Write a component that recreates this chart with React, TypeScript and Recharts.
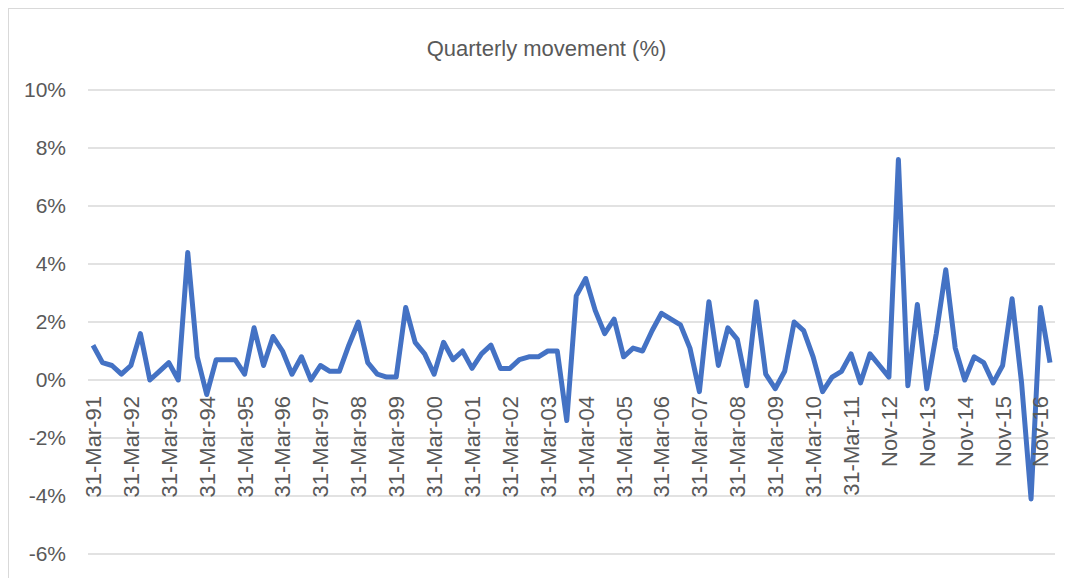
import { LineChart, Line, XAxis, YAxis, CartesianGrid } from 'recharts';

// Quarter-end labels: 31-Mar-91 .. 31-Dec-11, then Nov-12 onwards every 3 months
const quarterEnds = ['31-Mar', '30-Jun', '30-Sep', '31-Dec'];
const laterMonths = ['Nov', 'Feb', 'May', 'Aug'];

// quarterly movement, %
const movement = [
  1.2, 0.6, 0.5, 0.2, 0.5, 1.6, 0.0, 0.3, 0.6, 0.0,
  4.4, 0.8, -0.5, 0.7, 0.7, 0.7, 0.2, 1.8, 0.5, 1.5,
  1.0, 0.2, 0.8, 0.0, 0.5, 0.3, 0.3, 1.2, 2.0, 0.6,
  0.2, 0.1, 0.1, 2.5, 1.3, 0.9, 0.2, 1.3, 0.7, 1.0,
  0.4, 0.9, 1.2, 0.4, 0.4, 0.7, 0.8, 0.8, 1.0, 1.0,
  -1.4, 2.9, 3.5, 2.4, 1.6, 2.1, 0.8, 1.1, 1.0, 1.7,
  2.3, 2.1, 1.9, 1.1, -0.4, 2.7, 0.5, 1.8, 1.4, -0.2,
  2.7, 0.2, -0.3, 0.3, 2.0, 1.7, 0.8, -0.4, 0.1, 0.3,
  0.9, -0.1, 0.9, 0.5, 0.1, 7.6, -0.2, 2.6, -0.3, 1.6,
  3.8, 1.1, 0.0, 0.8, 0.6, -0.1, 0.5, 2.8, -0.1, -4.1,
  2.5, 0.6,
];

const yTicks = [-6, -4, -2, 0, 2, 4, 6, 8, 10];
const Y_MIN = -6;
const Y_MAX = 10;

const yy = (n: number) => String(n % 100).padStart(2, '0');

const labelFor = (i: number) => {
  if (i < 84) return `${quarterEnds[i % 4]}-${yy(1991 + Math.floor(i / 4))}`;
  const k = i - 84;
  const year = 2012 + Math.floor((k + 1) / 4);
  return `${laterMonths[k % 4]}-${yy(year)}`;
};

const data = movement.map((v, i) => ({ name: labelFor(i), value: v }));

// layout
const W = 1055;
const H = 600;
const M_TOP = 81;
const M_BOTTOM = 15;
const X_AXIS_H = 40;
const PLOT_H = H - M_TOP - M_BOTTOM - X_AXIS_H;
const TEXT = '#595959';
const FONT = '"Liberation Sans", Arial, sans-serif';

// x labels sit just under the zero line, like Excel's axis crossing at 0
const XTick = (props: any) => {
  const { x, payload } = props;
  const zeroY = M_TOP + (PLOT_H * Y_MAX) / (Y_MAX - Y_MIN);
  const y = zeroY + 16;
  return (
    <text
      x={x}
      y={y}
      dy="0.36em"
      transform={`rotate(-90, ${x}, ${y})`}
      textAnchor="end"
      fill={TEXT}
      fontSize={22}
      fontFamily={FONT}
    >
      {payload.value}
    </text>
  );
};

export default function App() {
  return (
    <div
      style={{
        position: 'relative',
        width: W,
        height: H,
        border: '1px solid #d9d9d9',
        fontFamily: FONT,
      }}
    >
      <div
        style={{
          position: 'absolute',
          top: 27,
          left: 0,
          right: 0,
          textAlign: 'center',
          transform: 'translateX(10px)',
          fontSize: 22,
          lineHeight: '26px',
          color: TEXT,
        }}
      >
        Quarterly movement (%)
      </div>
      <LineChart
        width={W}
        height={H}
        data={data}
        margin={{ top: M_TOP, right: 9, left: 0, bottom: M_BOTTOM }}
      >
        <CartesianGrid vertical={false} stroke="#d9d9d9" strokeWidth={1.5} />
        <XAxis
          dataKey="name"
          interval={3}
          height={X_AXIS_H}
          axisLine={false}
          tickLine={false}
          tickSize={0}
          padding={{ left: 5, right: 5 }}
          tick={<XTick />}
        />
        <YAxis
          domain={[Y_MIN, Y_MAX]}
          ticks={yTicks}
          width={79}
          axisLine={false}
          tickLine={false}
          tickSize={0}
          tickMargin={22}
          tickFormatter={(v) => `${v}%`}
          tick={{ fill: TEXT, fontSize: 21, fontFamily: FONT }}
        />
        <Line
          type="linear"
          dataKey="value"
          stroke="#4472C4"
          strokeWidth={5}
          strokeLinejoin="round"
          dot={false}
          isAnimationActive={false}
        />
      </LineChart>
    </div>
  );
}
